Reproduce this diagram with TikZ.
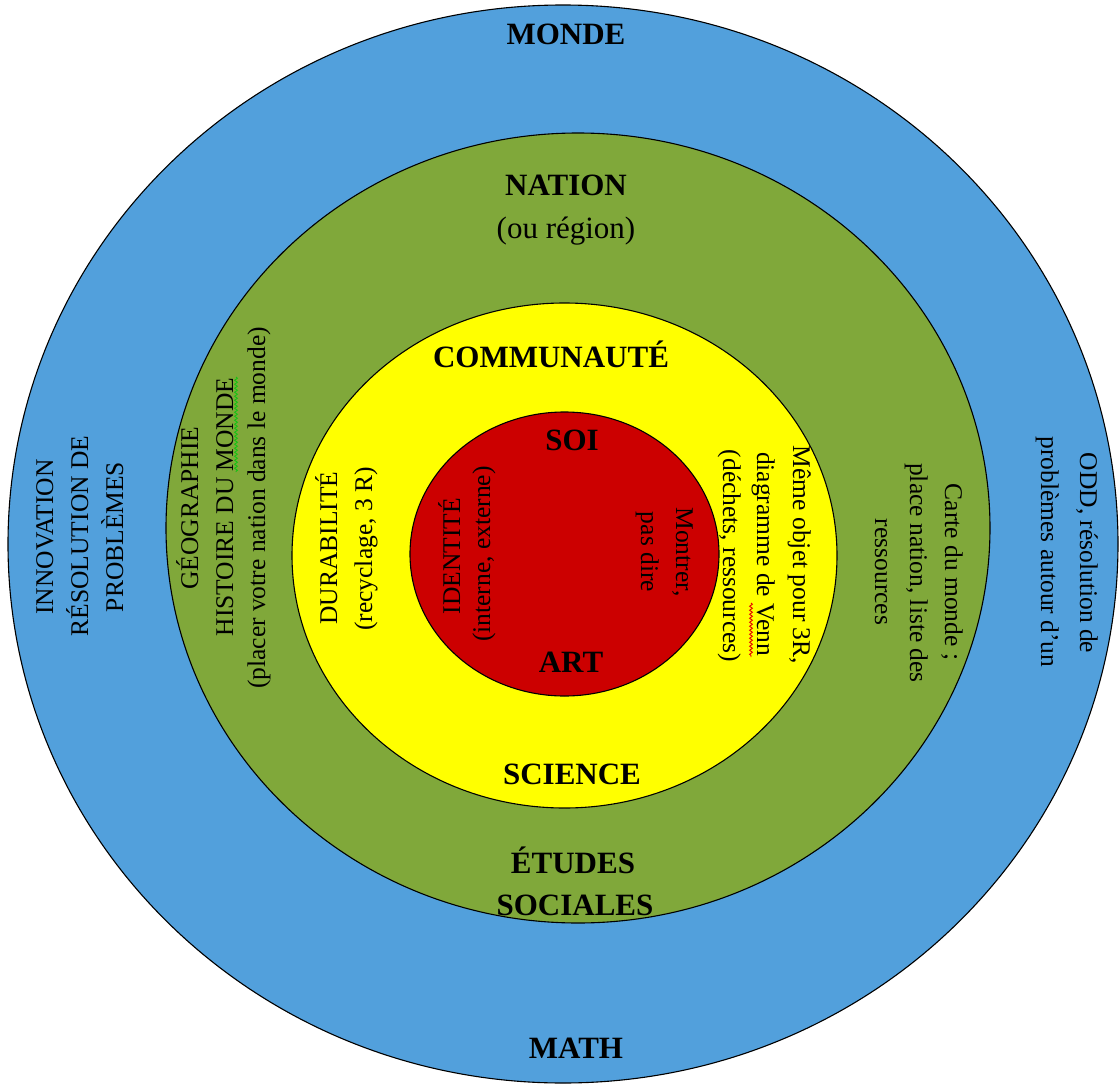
\documentclass[tikz,border=0pt]{standalone}
\usepackage{fontspec}
\setmainfont{Liberation Serif}
\usetikzlibrary{decorations.pathmorphing}
\definecolor{blueC}{RGB}{82,160,220}
\definecolor{greenC}{RGB}{128,168,58}
\definecolor{yellowC}{RGB}{255,255,0}
\definecolor{redC}{RGB}{204,0,0}
\definecolor{squigG}{RGB}{20,195,20}
\definecolor{squigR}{RGB}{230,0,0}
\tikzset{
  ring/.style={draw=black, line width=1.1pt},
  hd/.style={font=\fontsize{31}{36}\selectfont\bfseries, anchor=base, inner sep=0pt},
  hdr/.style={font=\fontsize{31}{36}\selectfont, anchor=base, inner sep=0pt},
  rl/.style={font=\fontsize{25.5}{30}\selectfont, anchor=base, inner sep=0pt, rotate=90},
  rr/.style={font=\fontsize{25.5}{30}\selectfont, anchor=base, inner sep=0pt, rotate=-90},
  squig/.style={decorate, decoration={snake, segment length=4pt, amplitude=1.4pt}, line width=0.9pt}
}
\begin{document}
\begin{tikzpicture}[x=1pt,y=-1pt]
\useasboundingbox (0,0) rectangle (1120,1084);
% rings
\draw[ring, fill=blueC] (563,544) ellipse [x radius=555pt, y radius=539pt];
\draw[ring, fill=greenC] (578,528) ellipse [x radius=412pt, y radius=395pt];
\draw[ring, fill=yellowC] (564.5,555.5) ellipse [x radius=272.5pt, y radius=252.5pt];
\draw[ring, fill=redC] (564.5,554) ellipse [x radius=154.5pt, y radius=142pt];
% headings
\node[hd] (monde) at (566,44) {MONDE};
\node[hd] (nation) at (566,195) {NATION};
\node[hdr] (region) at (566,238) {(ou région)};
\node[hd] (commu) at (551,367) {COMMUNAUTÉ};
\node[hd] (soi) at (572,450) {SOI};
\node[hd] (art) at (571,672) {ART};
\node[hd] (science) at (572,784) {SCIENCE};
\node[hd] (etudes) at (573,873) {ÉTUDES};
\node[hd] (sociales) at (575,915) {SOCIALES};
\node[hd] (math) at (576,1058) {MATH};
% left rotated texts
\node[rl] (innov) at (53,537) {INNOVATION};
\node[rl] (resol) at (88,536) {RÉSOLUTION DE};
\node[rl] (probl) at (123,537) {PROBLÈMES};
\node[rl] (geo) at (198,508) {GÉOGRAPHIE};
\node[rl] (hist) at (233,507) {HISTOIRE DU MONDE};
\node[rl] (placer) at (265,508) {(placer votre nation dans le monde)};
\node[rl] (durab) at (337,548) {DURABILITÉ};
\node[rl] (recyc) at (372,549) {(recyclage, 3 R)};
\node[rl] (ident) at (460,556) {IDENTITÉ};
\node[rl] (intext) at (490,554) {(interne, externe)};
% right rotated texts
\node[rr] (montrer) at (676,552) {Montrer,};
\node[rr] (pasdire) at (641,552) {pas dire};
\node[rr] (meme) at (793,555) {Même objet pour 3R,};
\node[rr] (venn) at (757,554) {diagramme de Venn};
\node[rr] (dechets) at (723,556) {(déchets, ressources)};
\node[rr] (carte) at (945,572) {Carte du monde ;};
\node[rr] (place) at (910,573) {place nation, liste des};
\node[rr] (ressrc) at (875,572) {ressources};
\node[rr] (odd) at (1080,553) {ODD, résolution de};
\node[rr] (autour) at (1041,552) {problèmes autour d’un};
% spell-check squiggles
\draw[squig, draw=squigG] (236,377) -- (236,472);
\draw[squig, draw=squigR] (751,603) -- (751,657);
\end{tikzpicture}
\end{document}
